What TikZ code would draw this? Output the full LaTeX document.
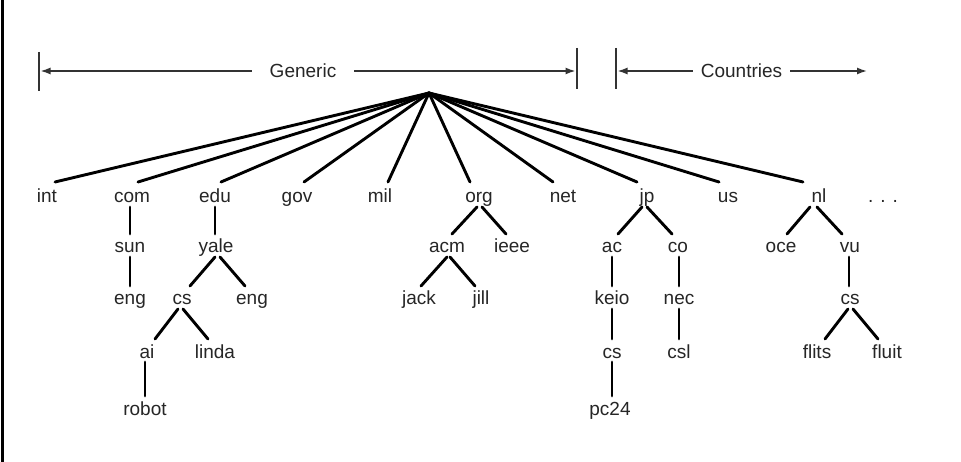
\documentclass[tikz,border=0pt]{standalone}
\usepackage{fontspec}
\setmainfont{Liberation Sans}
\usetikzlibrary{calc,arrows.meta}
\newcommand{\tedge}[4]{\draw[edge] ($(#1.base)+(#3,4)$) -- ($(#2.base)+(#4,-19)$);}
\newcommand{\redge}[2]{\draw[edge] (root) -- ($(#1.base)+(#2,-21)$);}
\begin{document}
\begin{tikzpicture}[x=1pt,y=-1pt,
  lbl/.style={anchor=base,inner sep=0pt,font=\fontsize{19}{22}\selectfont,text=black!85},
  edge/.style={line width=2.9pt,black,line cap=round},
  hdr/.style={line width=1.5pt,black!80},
  bar/.style={line width=1.7pt,black!80},
  tip/.style={-{Latex[length=10pt,width=7pt]}}]
\useasboundingbox (0,0) rectangle (961,462);
\fill[white] (0,0) rectangle (961,462);
% left border
\draw[line width=3pt,black] (2.5,0) -- (2.5,462);

% header
\node[lbl,anchor=center,inner xsep=18pt,inner ysep=2pt] (generic) at (303,71) {Generic};
\node[lbl,anchor=center,inner xsep=8pt,inner ysep=2pt] (countries) at (741.5,71) {Countries};
\coordinate (b1t) at (39,52);  \coordinate (b1b) at (39,91);
\coordinate (b2t) at (577,48); \coordinate (b2b) at (577,89);
\coordinate (b3t) at (616,48); \coordinate (b3b) at (616,89);
\coordinate (g1) at (40.5,71); \coordinate (g2) at (575.5,71);
\coordinate (c1) at (617.5,71); \coordinate (c2) at (867,71);
\draw[bar] (b1t) -- (b1b);
\draw[bar] (b2t) -- (b2b);
\draw[bar] (b3t) -- (b3b);
\draw[hdr,tip] (generic.west) -- (g1);
\draw[hdr,tip] (generic.east) -- (g2);
\draw[hdr,tip] (countries.west) -- (c1);
\draw[hdr,tip] (countries.east) -- (c2);

% root
\coordinate (root) at (429,93);

% level 1
\node[lbl] (int) at (47,203) {int};
\node[lbl] (com) at (132,203) {com};
\node[lbl] (edu) at (215,203) {edu};
\node[lbl] (gov) at (297,203) {gov};
\node[lbl] (mil) at (380,203) {mil};
\node[lbl] (org) at (479,203) {org};
\node[lbl] (net) at (563,203) {net};
\node[lbl] (jp) at (647,203) {jp};
\node[lbl] (us) at (728,203) {us};
\node[lbl] (nl) at (819,203) {nl};
\node[lbl] (dots) at (883,203) {. . .};

% level 2
\node[lbl] (sun) at (130,253) {sun};
\node[lbl] (yale) at (216,253) {yale};
\node[lbl] (acm) at (447,253) {acm};
\node[lbl] (ieee) at (512,253) {ieee};
\node[lbl] (ac) at (612,253) {ac};
\node[lbl] (co) at (678,253) {co};
\node[lbl] (oce) at (781,253) {oce};
\node[lbl] (vu) at (850,253) {vu};

% level 3
\node[lbl] (engA) at (130,305) {eng};
\node[lbl] (csA) at (182,305) {cs};
\node[lbl] (engB) at (252,305) {eng};
\node[lbl] (jack) at (419,305) {jack};
\node[lbl] (jill) at (481,305) {jill};
\node[lbl] (keio) at (612,305) {keio};
\node[lbl] (nec) at (679,305) {nec};
\node[lbl] (csC) at (850,305) {cs};

% level 4
\node[lbl] (ai) at (147,358) {ai};
\node[lbl] (linda) at (215,358) {linda};
\node[lbl] (csB) at (612,358) {cs};
\node[lbl] (csl) at (679,358) {csl};
\node[lbl] (flits) at (817,358) {flits};
\node[lbl] (fluit) at (887,358) {fluit};

% level 5
\node[lbl] (robot) at (145,415) {robot};
\node[lbl] (pc24) at (610,415) {pc24};

% root edges
\redge{int}{8}
\redge{com}{6}
\redge{edu}{6}
\redge{gov}{7}
\redge{mil}{8}
\redge{org}{-9}
\redge{net}{-10}
\redge{jp}{-10}
\redge{us}{-9}
\redge{nl}{-16}

% tree edges
\tedge{com}{sun}{-2}{0}
\tedge{sun}{engA}{0}{0}
\tedge{edu}{yale}{0}{-1}
\tedge{yale}{csA}{-1}{8}
\tedge{yale}{engB}{4}{-7}
\tedge{csA}{ai}{-4}{8}
\tedge{csA}{linda}{1}{-7}
\tedge{ai}{robot}{-2}{0}
\tedge{org}{acm}{-2}{5}
\tedge{org}{ieee}{3}{-6}
\tedge{acm}{jack}{0}{2}
\tedge{acm}{jill}{3}{-6}
\tedge{jp}{ac}{-5}{6}
\tedge{jp}{co}{0}{-6}
\tedge{ac}{keio}{0}{0}
\tedge{co}{nec}{1}{0}
\tedge{keio}{csB}{0}{0}
\tedge{nec}{csl}{0}{0}
\tedge{csB}{pc24}{0}{2}
\tedge{nl}{oce}{-9}{6}
\tedge{nl}{vu}{-2}{-8}
\tedge{vu}{csC}{-1}{-1}
\tedge{csC}{flits}{-2}{8}
\tedge{csC}{fluit}{3}{-9}
\end{tikzpicture}
\end{document}
